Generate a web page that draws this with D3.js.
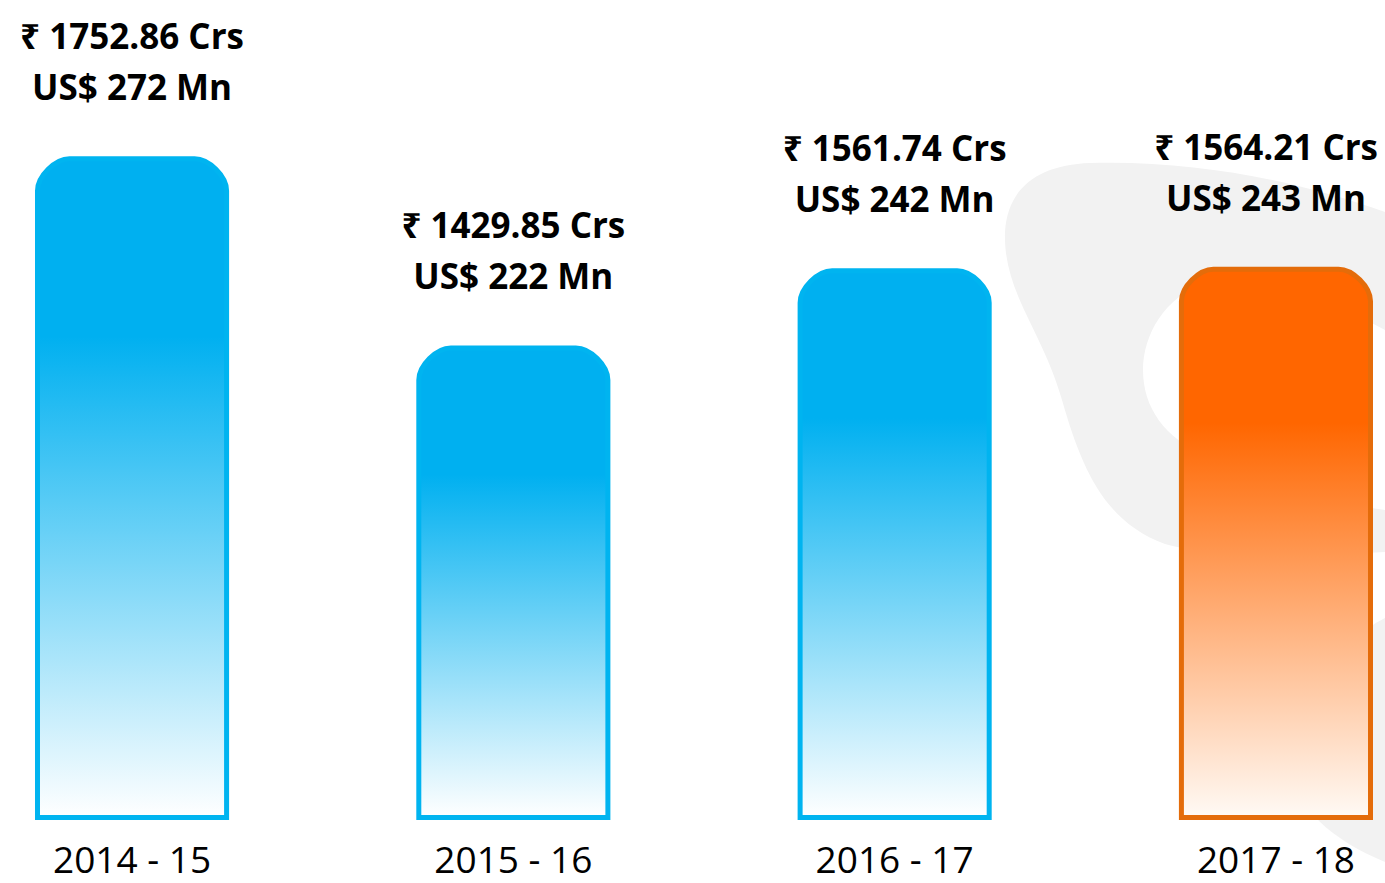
<!DOCTYPE html>
<html>
<head>
<meta charset="utf-8">
<script src="https://cdn.jsdelivr.net/npm/d3@7/dist/d3.min.js"></script>
<style>
  html, body { margin: 0; padding: 0; background: #ffffff; }
  svg { display: block; }
</style>
</head>
<body>
<svg id="chart" width="1385" height="883"></svg>
<script>
// ---- data ----
const categories = ["2014 - 15", "2015 - 16", "2016 - 17", "2017 - 18"];
const valuesINR = [1752.86, 1429.85, 1561.74, 1564.21];   // ₹ Crs
const valuesUSD = [272, 222, 242, 243];                  // US$ Mn
const highlightCategory = "2017 - 18";

const W = 1385, H = 883;
const svg = d3.select("#chart");

// ---- background watermark blob ----
const blobOuter = "M1090,163 C1200,160 1300,182 1385,212 L1385,552 C1300,557 1210,557 1165,544 C1105,522 1082,470 1062,400 C1042,330 1003,292 1005,232 C1008,186 1040,165 1090,163 Z";
const blobHole = "M1385,330 C1330,300 1255,272 1205,284 C1165,296 1143,335 1143,370 C1143,408 1165,438 1205,455 C1262,482 1330,503 1385,510 Z";
const blob2 = "M1385,618 C1340,640 1302,700 1292,760 C1286,800 1330,840 1385,862 Z";
svg.append("path").attr("d", blobOuter + " " + blobHole)
  .attr("fill", "#f2f2f2").attr("fill-rule", "evenodd");
svg.append("path").attr("d", blob2).attr("fill", "#f2f2f2");

// ---- scales ----
const x = d3.scaleBand().domain(categories).range([35, 1373]).paddingInner(0.491).paddingOuter(0);
const y = d3.scaleLinear().domain([620, 1760]).range([820, 152]);

// ---- gradients ----
const defs = svg.append("defs");
function grad(id, c, end, solid) {
  const g = defs.append("linearGradient").attr("id", id)
    .attr("x1", 0).attr("y1", 0).attr("x2", 0).attr("y2", 1);
  g.append("stop").attr("offset", 0).attr("stop-color", c);
  g.append("stop").attr("offset", solid).attr("stop-color", c);
  g.append("stop").attr("offset", 1).attr("stop-color", end);
}
grad("gBlue", "#00b0f0", "#ffffff", 0.27);
grad("gOrange", "#ff6600", "#fffaf5", 0.28);

const sw = 5, r = 32;
function barPath(cat, v) {
  const x0 = x(cat) + sw / 2, x1 = x(cat) + x.bandwidth() - sw / 2;
  const yt = y(v) + sw / 2, yb = y.range()[0] - sw / 2;
  const k = r * 0.45;
  return `M${x0},${yb} L${x0},${yt + r} C${x0},${yt + r - k} ${x0 + r - k},${yt} ${x0 + r},${yt} ` +
         `L${x1 - r},${yt} C${x1 - r + k},${yt} ${x1},${yt + r - k} ${x1},${yt + r} L${x1},${yb} Z`;
}

const data = categories.map((c, i) => ({ c, inr: valuesINR[i], usd: valuesUSD[i] }));

svg.append("g").selectAll("path").data(data).join("path")
  .attr("d", d => barPath(d.c, d.inr))
  .attr("fill", d => d.c === highlightCategory ? "url(#gOrange)" : "url(#gBlue)")
  .attr("stroke", d => d.c === highlightCategory ? "#e46c0a" : "#00b4f0")
  .attr("stroke-width", sw)
  .attr("stroke-linejoin", "miter");

// ---- value labels ----
const lab = svg.append("g")
  .attr("font-family", "'Open Sans', 'Noto Sans', 'DejaVu Sans', sans-serif")
  .attr("font-weight", 700).attr("font-size", 35).attr("fill", "#000")
  .attr("text-anchor", "middle");
const groups = lab.selectAll("g").data(data).join("g");
groups.append("text").attr("class", "l1")
  .attr("y", d => y(d.inr) - 107)
  .text(d => `₹ ${d.inr.toFixed(2)} Crs`);
groups.append("text").attr("class", "l2")
  .attr("y", d => y(d.inr) - 56)
  .text(d => `US$ ${d.usd} Mn`);
// centre on bar, but keep the label block inside the picture
groups.each(function (d) {
  const g = d3.select(this);
  const w = d3.max(g.selectAll("text").nodes(), n => n.getComputedTextLength());
  let cx = x(d.c) + x.bandwidth() / 2;
  cx = Math.min(cx, W - 7 - w / 2);
  g.selectAll("text").attr("x", cx);
});

// ---- x axis labels ----
const axis = d3.axisBottom(x).tickSize(0).tickPadding(0);
const gx = svg.append("g").attr("transform", `translate(0,${y.range()[0]})`).call(axis);
gx.select(".domain").remove();
gx.selectAll("text")
  .attr("font-family", "'Open Sans', 'Noto Sans', sans-serif")
  .attr("font-size", 37).attr("fill", "#000")
  .attr("dy", null).attr("y", 53);
</script>
</body>
</html>
